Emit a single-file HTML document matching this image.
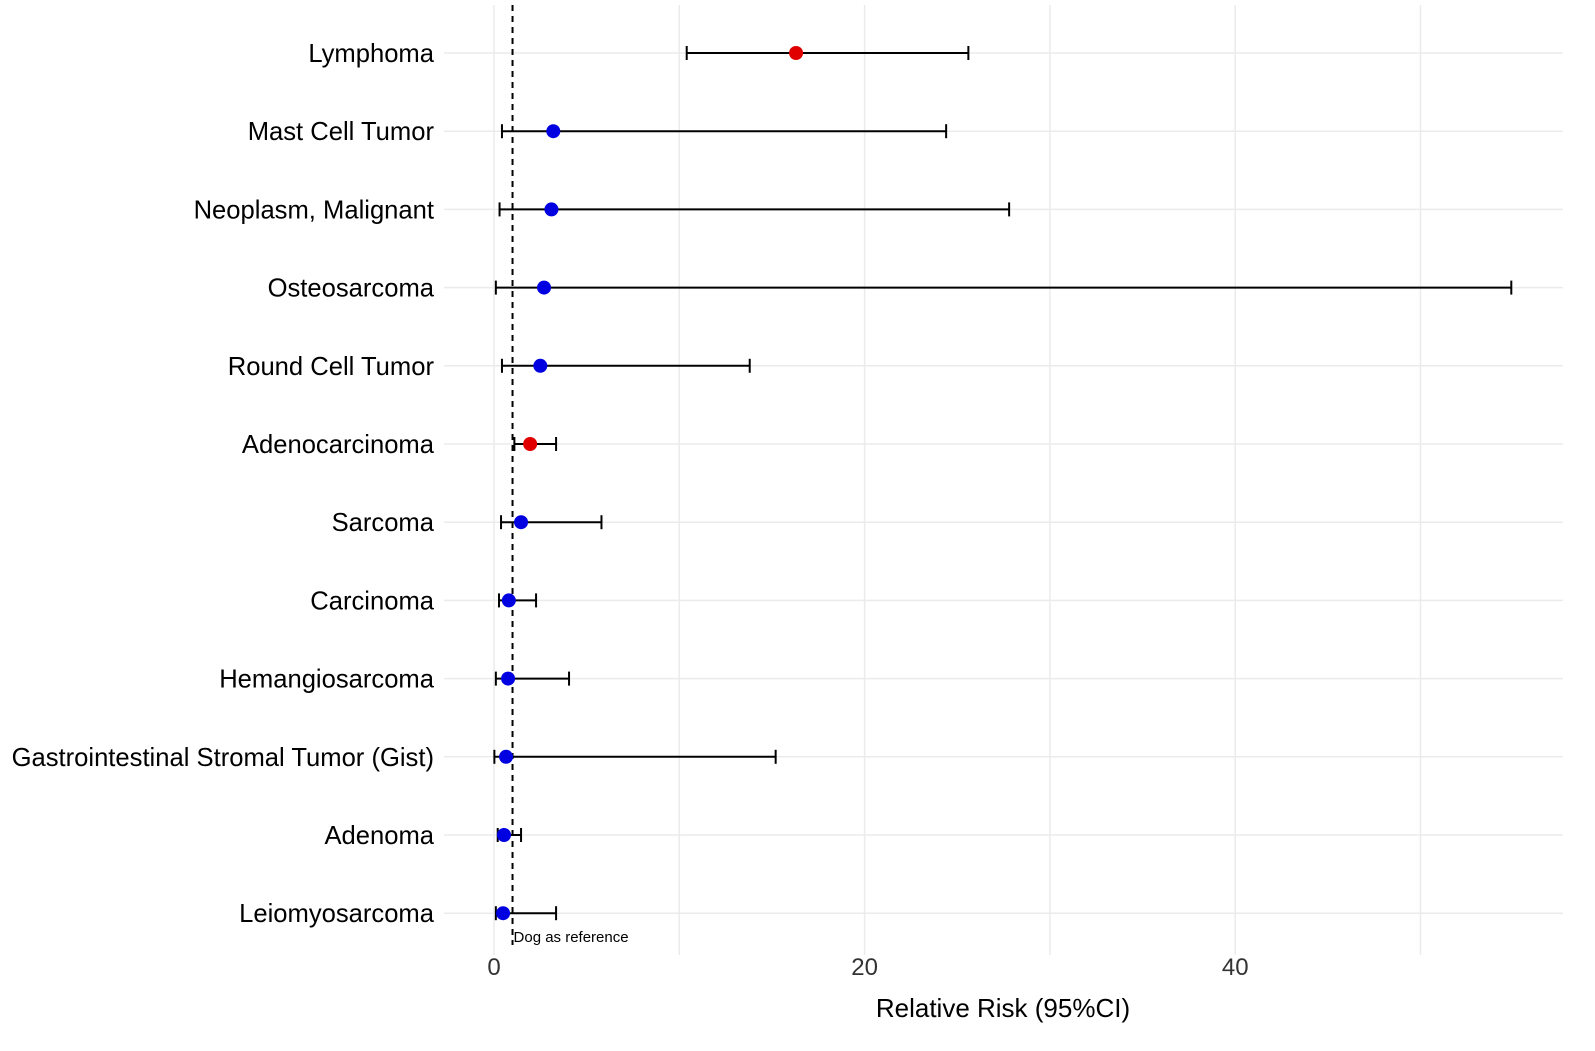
<!DOCTYPE html>
<html><head><meta charset="utf-8"><style>
body{margin:0;background:#fff}
svg text{font-family:"Liberation Sans",sans-serif}
</style></head><body>
<svg id="chart" width="1595" height="1046"></svg>
<script>
const categories=["Lymphoma","Mast Cell Tumor","Neoplasm, Malignant","Osteosarcoma","Round Cell Tumor","Adenocarcinoma","Sarcoma","Carcinoma","Hemangiosarcoma","Gastrointestinal Stromal Tumor (Gist)","Adenoma","Leiomyosarcoma"];
const estimates=[16.3,3.2,3.1,2.7,2.5,1.95,1.46,0.8,0.76,0.65,0.54,0.49];
const lowerCI=[10.4,0.43,0.3,0.1,0.43,1.1,0.38,0.27,0.1,0.02,0.2,0.1];
const upperCI=[25.6,24.4,27.8,54.9,13.8,3.35,5.8,2.27,4.05,15.2,1.46,3.35];
const significant=[true,false,false,false,false,true,false,false,false,false,false,false];
const xTicks=[0,20,40];
const xGrid=[0,10,20,30,40,50];
const referenceValue=1;
const svg=document.getElementById('chart');
const NS='http://www.w3.org/2000/svg';
const x=v=>494+v*18.53;
const y=i=>53+i*78.2;
function mk(t,a,txt){const e=document.createElementNS(NS,t);for(const k in a)e.setAttribute(k,a[k]);if(txt!==undefined)e.textContent=txt;svg.appendChild(e);return e;}
xGrid.forEach(v=>{const e=mk('line',{x1:x(v),x2:x(v),y1:5,y2:955,stroke:'#ebebeb','stroke-width':1.5});

});
categories.forEach((c,i)=>{const e=mk('line',{x1:444,x2:1563,y1:y(i),y2:y(i),stroke:'#ebebeb','stroke-width':1.5});

});
const ref=mk('line',{x1:x(referenceValue),x2:x(referenceValue),y1:5,y2:945,stroke:'#000','stroke-width':2,'stroke-dasharray':'6,5'});


const rl=mk('text',{x:x(referenceValue)+1,y:942,'font-size':15,fill:'#000'},'Dog as reference');


categories.forEach((c,i)=>{
const g=mk('g',{});


const yy=y(i);
const l=mk('line',{x1:x(lowerCI[i]),x2:x(upperCI[i]),y1:yy,y2:yy,stroke:'#000','stroke-width':2});


[lowerCI[i],upperCI[i]].forEach(v=>{const cp=mk('line',{x1:x(v),x2:x(v),y1:yy-7,y2:yy+7,stroke:'#000','stroke-width':2});

});
const p=mk('circle',{cx:x(estimates[i]),cy:yy,r:7,fill:significant[i]?'#e00000':'#0000e0'});


const t=mk('text',{x:434,y:yy+9,'font-size':25.6,'text-anchor':'end',fill:'#000'},c);


});
xTicks.forEach(v=>{const t=mk('text',{x:x(v),y:975,'font-size':24,'text-anchor':'middle',fill:'#333'},String(v));

});
const at=mk('text',{x:1003,y:1017,'font-size':26,'text-anchor':'middle',fill:'#000'},'Relative Risk (95%CI)');


</script>
</body></html>
